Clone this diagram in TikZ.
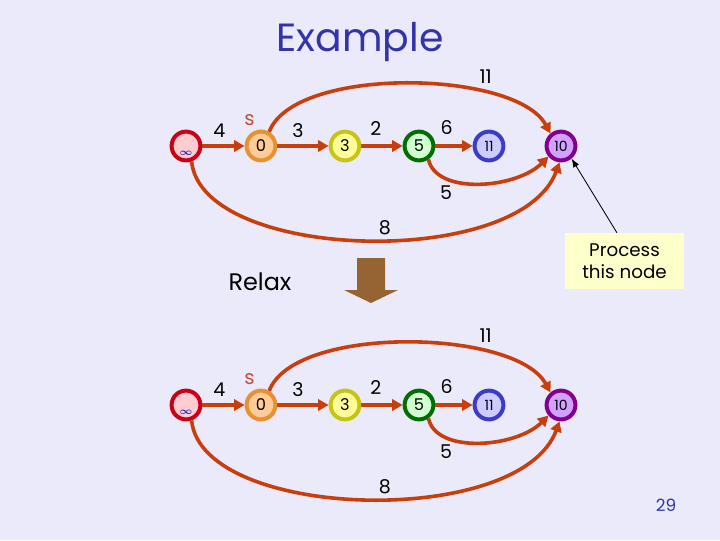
\documentclass[tikz,border=0pt]{standalone}
\usepackage{fontspec}
\setmainfont{Poppins}
\usetikzlibrary{arrows.meta}
\definecolor{slidebg}{RGB}{234,234,250}
\definecolor{edgered}{RGB}{200,62,12}
\definecolor{titleblue}{RGB}{51,51,170}
\definecolor{srcred}{RGB}{190,80,60}
\definecolor{relaxbrown}{RGB}{150,100,50}
\definecolor{notefill}{RGB}{255,255,204}
\definecolor{infdraw}{RGB}{204,0,20}
\definecolor{inffill}{RGB}{255,204,210}
\definecolor{srcdraw}{RGB}{230,145,50}
\definecolor{srcfill}{RGB}{255,204,153}
\definecolor{middraw}{RGB}{200,195,20}
\definecolor{midfill}{RGB}{255,255,153}
\definecolor{fivedraw}{RGB}{0,110,0}
\definecolor{fivefill}{RGB}{210,255,210}
\definecolor{elevdraw}{RGB}{60,60,200}
\definecolor{elevfill}{RGB}{204,204,255}
\definecolor{tendraw}{RGB}{130,0,140}
\definecolor{tenfill}{RGB}{210,160,255}
\tikzset{
 vertex/.style={
 circle,
 line width=0.1cm,
 minimum size=0.72cm,
 inner sep=0pt,
 font=\fontsize{11.5}{11.5}\selectfont
 },
 wlabel/.style={font=\fontsize{13.5}{13.5}\selectfont, inner sep=1pt},
 edge/.style={-{Triangle[length=2.6mm,width=2.8mm]}, line width=0.09cm, draw=edgered},
 pointer/.style={-{Latex[length=2.2mm]}, semithick, draw=black},
 notebox/.style={
 rectangle,
 fill=notefill,
 align=center,
 minimum width=2.975cm,
 minimum height=1.4cm,
 inner sep=2pt,
 font=\fontsize{13}{16}\selectfont
 }
}

\begin{document}
\begin{tikzpicture}[x=0.025cm, y=-0.025cm]
 \fill[slidebg] (0,0) rectangle (720,540);
 \useasboundingbox (0,0) rectangle (720,540);

 \node[font=\fontsize{28}{28}\selectfont, text=titleblue] (title) at (360,42) {Example};

 % the same graph, before and after the relax step
 \foreach \r/\dy in {a/0, b/259} {
 \pgfmathsetmacro{\y}{146+\dy}
 \node[vertex, draw=infdraw, fill=inffill,
 label={[text=titleblue, font=\fontsize{7}{7}\selectfont\boldmath, yshift=-5pt]center:$\infty$}]
 (inf\r) at (186,\y) {};
 \node[vertex, draw=srcdraw, fill=srcfill,
 label={[text=srcred, font=\fontsize{14}{14}\selectfont, label distance=-1pt]95:s}]
 (src\r) at (261,\y) {0};
 \node[vertex, draw=middraw, fill=midfill] (mid\r) at (345,\y) {3};
 \node[vertex, draw=fivedraw, fill=fivefill] (five\r) at (419,\y) {5};
 \node[vertex, draw=elevdraw, fill=elevfill, font=\fontsize{10}{10}\selectfont] (elev\r) at (489,\y) {11};
 \node[vertex, draw=tendraw, fill=tenfill, font=\fontsize{10}{10}\selectfont] (ten\r) at (561,\y) {10};

 \draw[edge] (inf\r) -- node[wlabel, pos=0.4, above=4pt] {4} (src\r);
 \draw[edge] (src\r) -- node[wlabel, pos=0.4, above=4pt] {3} (mid\r);
 \draw[edge] (mid\r) -- node[wlabel, pos=0.35, above=5pt] {2} (five\r);
 \draw[edge] (five\r) -- node[wlabel, pos=0.3, above=6pt] {6} (elev\r);
 \draw[edge] (src\r.60) .. controls +(25,-66) and +(-35,-64) ..
 node[wlabel, pos=0.72, above=5pt] {11} (ten\r.130);
 \draw[edge] (five\r.-55) .. controls +(8,36) and +(-32,32) ..
 node[wlabel, pos=0.25, below=3pt] {5} (ten\r.-140);
 \draw[edge] (inf\r.-70) .. controls +(10,100) and +(-40,108) ..
 node[wlabel, pos=0.54, above=1pt] {8} (ten\r.-95);
 }

 \node[font=\fontsize{17}{17}\selectfont] (relax) at (260,282) {Relax};
 \fill[relaxbrown] (357,258) -- (385,258) -- (385,290) -- (398,290)
 -- (371,303) -- (344,290) -- (357,290) -- cycle;

 \node[notebox] (note) at (624.5,261) {Process\\this node};
 \draw[pointer] (note.105) -- (tena.-50);

 \node[font=\fontsize{12}{12}\selectfont, text=titleblue] (pagenum) at (666,505) {29};
\end{tikzpicture}
\end{document}
